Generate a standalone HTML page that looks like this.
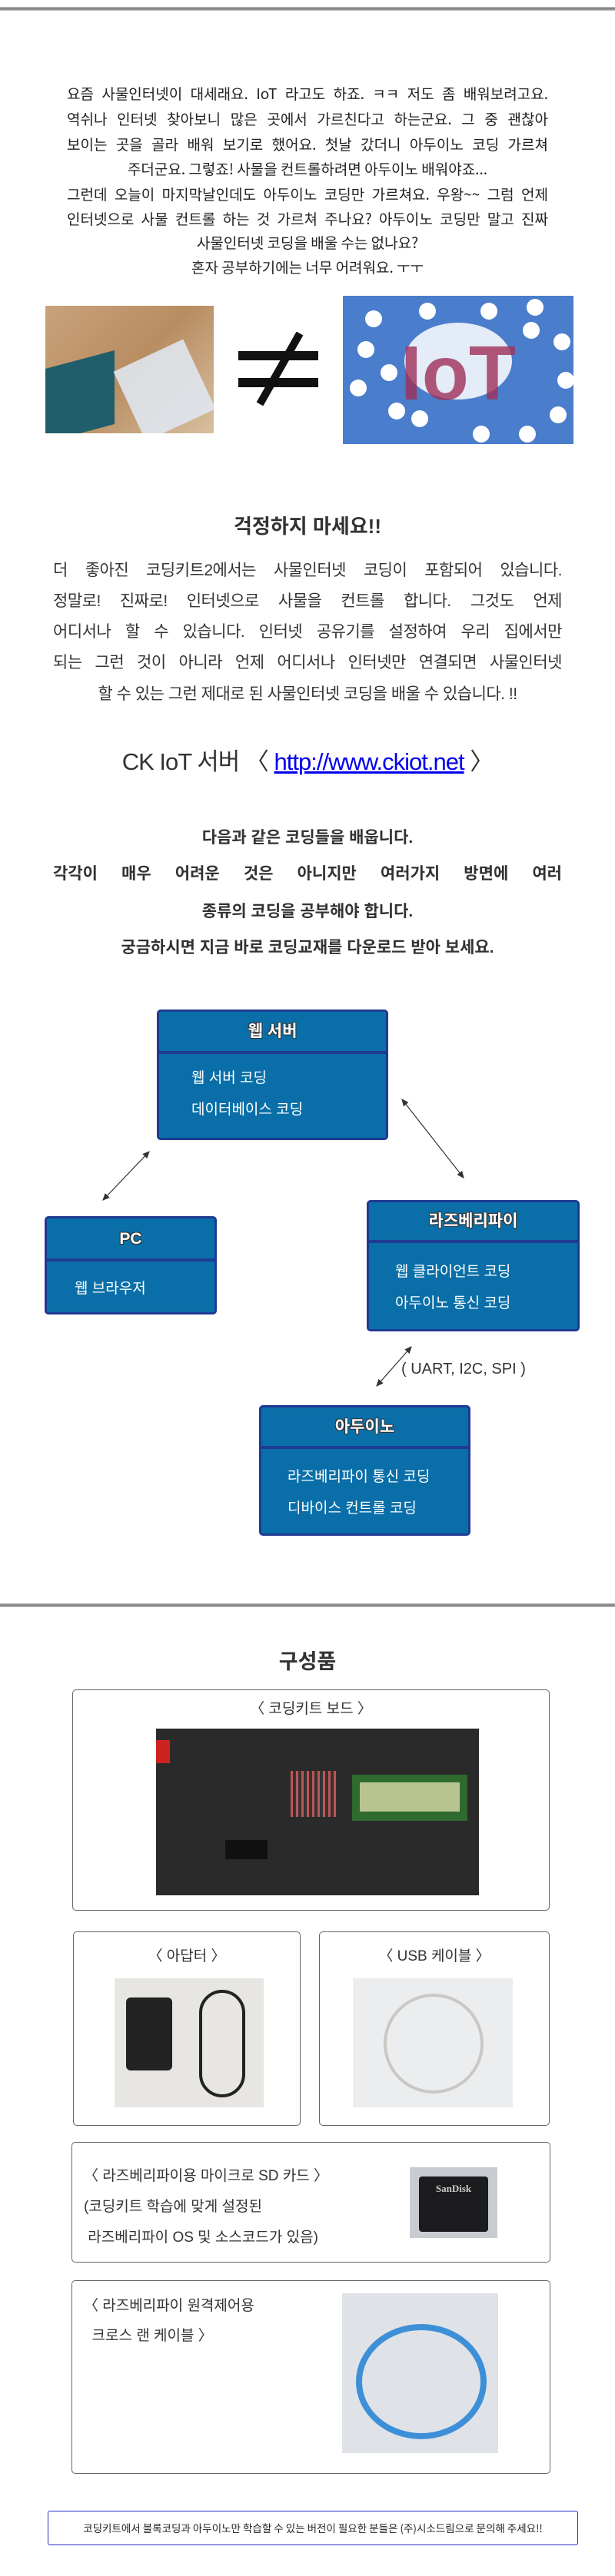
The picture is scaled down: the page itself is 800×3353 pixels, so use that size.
<!DOCTYPE html>
<html><head><meta charset="utf-8">
<style>
*{margin:0;padding:0;box-sizing:border-box}
body{width:800px;height:3353px;position:relative;background:#fff;font-family:"Liberation Sans","Noto Sans CJK KR",sans-serif;color:#333;overflow:hidden}
.a{position:absolute}
.bar{position:absolute;left:0;width:800px;height:5px;background:linear-gradient(#bbb,#777,#ccc)}
.hw{position:absolute;left:87px;width:626px;font-size:19px;height:32px;line-height:32px;color:#222;font-family:"WenQuanYi Zen Hei","Noto Sans CJK KR",sans-serif;white-space:nowrap}
.j{text-align:justify;text-align-last:justify}
.cc{text-align:center}
.c{text-align:center;left:0;width:800px}
.pl{position:absolute;left:69px;width:662px;font-size:21px;line-height:40px;height:40px;color:#333;white-space:nowrap;letter-spacing:-0.5px}
.bl{position:absolute;left:69px;width:662px;font-size:21px;font-weight:bold;line-height:48px;color:#333;white-space:nowrap}
.box{position:absolute;background:#0a6fa8;border:3px solid #1f3a93;border-radius:5px}
.box .hd{position:absolute;left:0;right:0;top:0;border-bottom:4px solid #1f3a93;text-align:center;color:#fff;font-weight:bold;font-size:21px;text-shadow:-1px -1px 0 #333,1px -1px 0 #333,-1px 1px 0 #333,1px 1px 0 #333}
.box .bd{position:absolute;color:#fff;font-size:19px;line-height:41px}
.pb{position:absolute;border:1.5px solid #666;border-radius:5px}
.t{position:absolute;font-size:19px;color:#333}
</style></head><body>
<div class="bar" style="top:9px"></div>
<div class="hw j" style="top:106px">요즘 사물인터넷이 대세래요. IoT 라고도 하죠. ㅋㅋ 저도 좀 배워보려고요.</div>
<div class="hw j" style="top:139px">역쉬나 인터넷 찾아보니 많은 곳에서 가르친다고 하는군요. 그 중 괜찮아</div>
<div class="hw j" style="top:172px">보이는 곳을 골라 배워 보기로 했어요. 첫날 갔더니 아두이노 코딩 가르쳐</div>
<div class="hw cc" style="top:204px">주더군요. 그렇죠! 사물을 컨트롤하려면 아두이노 배워야죠...</div>
<div class="hw j" style="top:237px">그런데 오늘이 마지막날인데도 아두이노 코딩만 가르쳐요. 우왕~~ 그럼 언제</div>
<div class="hw j" style="top:269px">인터넷으로 사물 컨트롤 하는 것 가르쳐 주나요? 아두이노 코딩만 말고 진짜</div>
<div class="hw cc" style="top:300px">사물인터넷 코딩을 배울 수는 없나요?</div>
<div class="hw cc" style="top:332px">혼자 공부하기에는 너무 어려워요. ㅜㅜ</div>

<div class="a" style="left:59px;top:398px;width:219px;height:166px;background:linear-gradient(135deg,#c9a27a,#b88d62 50%,#d8c0a0);overflow:hidden">
<div class="a" style="left:0;top:70px;width:90px;height:96px;background:#1f5e6a;transform:skewY(-15deg)"></div>
<div class="a" style="left:105px;top:60px;width:100px;height:100px;background:#dfe6ee;transform:rotate(-25deg);opacity:.9"></div>
</div>
<div class="a" style="left:308px;top:432px;width:108px;height:96px">
<svg width="108" height="96"><rect x="2" y="25" width="104" height="12" fill="#111"/><rect x="2" y="60" width="104" height="12" fill="#111"/><line x1="82" y1="2" x2="30" y2="94" stroke="#111" stroke-width="10"/></svg></div>
<div class="a" style="left:446px;top:385px;width:300px;height:193px;background:#4a7dcc">
<svg width="300" height="193"><g fill="#fff"><circle cx="40" cy="30" r="11"/><circle cx="110" cy="20" r="11"/><circle cx="190" cy="20" r="11"/><circle cx="250" cy="15" r="11"/><circle cx="30" cy="70" r="11"/><circle cx="60" cy="100" r="11"/><circle cx="20" cy="120" r="11"/><circle cx="70" cy="150" r="11"/><circle cx="100" cy="160" r="11"/><circle cx="180" cy="180" r="11"/><circle cx="240" cy="180" r="11"/><circle cx="280" cy="155" r="11"/><circle cx="285" cy="60" r="11"/><circle cx="290" cy="110" r="11"/><circle cx="245" cy="45" r="11"/><ellipse cx="150" cy="85" rx="70" ry="50" opacity=".85"/></g>
<text x="150" y="135" text-anchor="middle" font-size="100" font-weight="bold" fill="#a0305a" opacity=".8" font-family="Liberation Sans">IoT</text></svg></div>

<div class="a c" style="top:665px;font-size:26px;font-weight:bold;color:#333">걱정하지 마세요!!</div>
<div class="pl j" style="top:723px">더 좋아진 코딩키트2에서는 사물인터넷 코딩이 포함되어 있습니다.</div>
<div class="pl j" style="top:763px">정말로! 진짜로! 인터넷으로 사물을 컨트롤 합니다. 그것도 언제</div>
<div class="pl j" style="top:803px">어디서나 할 수 있습니다. 인터넷 공유기를 설정하여 우리 집에서만</div>
<div class="pl j" style="top:843px">되는 그런 것이 아니라 언제 어디서나 인터넷만 연결되면 사물인터넷</div>
<div class="pl cc" style="top:884px">할 수 있는 그런 제대로 된 사물인터넷 코딩을 배울 수 있습니다. !!</div>
<div class="a c" style="top:966px;font-size:31px;color:#333;letter-spacing:-1px">CK IoT 서버 〈 <span style="color:#0000ee;text-decoration:underline">http://www.ckiot.net</span> 〉</div>
<div class="bl cc" style="top:1067px">다음과 같은 코딩들을 배웁니다.</div>
<div class="bl j" style="top:1114px">각각이 매우 어려운 것은 아니지만 여러가지 방면에 여러</div>
<div class="bl cc" style="top:1163px">종류의 코딩을 공부해야 합니다.</div>
<div class="bl cc" style="top:1210px">궁금하시면 지금 바로 코딩교재를 다운로드 받아 보세요.</div>

<div class="box" style="left:204px;top:1314px;width:301px;height:170px"><div class="hd" style="height:55px;line-height:52px">웹 서버</div><div class="bd" style="left:42px;top:66px">웹 서버 코딩<br>데이터베이스 코딩</div></div>
<div class="box" style="left:58px;top:1583px;width:224px;height:128px"><div class="hd" style="height:56px;line-height:53px">PC</div><div class="bd" style="left:36px;top:71px">웹 브라우저</div></div>
<div class="box" style="left:477px;top:1562px;width:277px;height:171px"><div class="hd" style="height:53px;line-height:50px">라즈베리파이</div><div class="bd" style="left:34px;top:70px">웹 클라이언트 코딩<br>아두이노 통신 코딩</div></div>
<div class="box" style="left:337px;top:1829px;width:275px;height:170px"><div class="hd" style="height:54px;line-height:51px">아두이노</div><div class="bd" style="left:34px;top:70px">라즈베리파이 통신 코딩<br>디바이스 컨트롤 코딩</div></div>
<svg class="a" style="left:0;top:0" width="800" height="2100"><defs><marker id="m" markerWidth="8" markerHeight="8" refX="7" refY="4" orient="auto-start-reverse"><path d="M0,0.5 L8,4 L0,7.5z" fill="#333"/></marker></defs>
<g stroke="#333" stroke-width="1.2" marker-start="url(#m)" marker-end="url(#m)"><line x1="194" y1="1499" x2="134" y2="1562"/><line x1="523" y1="1431" x2="603" y2="1533"/><line x1="535" y1="1753" x2="490" y2="1804"/></g></svg>
<div class="a" style="left:522px;top:1771px;font-size:20px;color:#333">( UART, I2C, SPI )</div>

<div class="bar" style="top:2087px"></div>
<div class="a c" style="top:2141px;font-size:27px;font-weight:bold;color:#333">구성품</div>
<div class="pb" style="left:94px;top:2199px;width:621px;height:288px"></div>
<div class="t" style="left:94px;width:621px;text-align:center;top:2209px">〈 코딩키트 보드 〉</div>
<div class="a" style="left:203px;top:2250px;width:420px;height:217px;background:#2a2a2a">
<div class="a" style="left:175px;top:55px;width:60px;height:60px;background:repeating-linear-gradient(90deg,#b55 0 3px,#333 3px 7px)"></div>
<div class="a" style="left:255px;top:60px;width:150px;height:60px;background:#2f6a2f"><div class="a" style="left:10px;top:10px;width:130px;height:38px;background:#b8c490"></div></div>
<div class="a" style="left:90px;top:145px;width:55px;height:25px;background:#111"></div>
<div class="a" style="left:0;top:15px;width:18px;height:30px;background:#c22"></div></div>

<div class="pb" style="left:95px;top:2514px;width:296px;height:253px"></div>
<div class="t" style="left:95px;width:296px;text-align:center;top:2531px">〈 아답터 〉</div>
<div class="a" style="left:149px;top:2575px;width:194px;height:168px;background:#e8e6e2"><div class="a" style="left:15px;top:25px;width:60px;height:95px;background:#222;border-radius:6px"></div><div class="a" style="left:110px;top:15px;width:60px;height:140px;border:4px solid #222;border-radius:30px"></div></div>
<div class="pb" style="left:415px;top:2514px;width:300px;height:253px"></div>
<div class="t" style="left:415px;width:300px;text-align:center;top:2531px">〈 USB 케이블 〉</div>
<div class="a" style="left:459px;top:2575px;width:208px;height:168px;background:#ecedef"><div class="a" style="left:40px;top:20px;width:130px;height:130px;border:4px solid #c8c8c4;border-radius:50%"></div></div>

<div class="pb" style="left:93px;top:2788px;width:623px;height:157px"></div>
<div class="t" style="left:109px;top:2813px;line-height:40px;font-size:19px">〈 라즈베리파이용 마이크로 SD 카드 〉<br>(코딩키트 학습에 맞게 설정된<br>&nbsp;라즈베리파이 OS 및 소스코드가 있음)</div>
<div class="a" style="left:533px;top:2821px;width:114px;height:92px;background:#c8ccd0"><div class="a" style="left:12px;top:12px;width:90px;height:72px;background:#1c1c1e;border-radius:4px;color:#ccc;font-size:13px;font-weight:bold;text-align:center;padding-top:8px;font-family:'Liberation Serif',serif">SanDisk</div></div>

<div class="pb" style="left:93px;top:2968px;width:623px;height:252px"></div>
<div class="t" style="left:109px;top:2982px;line-height:39px;font-size:19px">〈 라즈베리파이 원격제어용<br>&nbsp;&nbsp;크로스 랜 케이블 〉</div>
<div class="a" style="left:445px;top:2985px;width:203px;height:208px;background:#dfe3e8"><div class="a" style="left:18px;top:40px;width:170px;height:150px;border:8px solid #3d8fd8;border-radius:50%"></div></div>

<div class="a" style="left:62px;top:3268px;width:690px;height:45px;border:1.5px solid #2a2acc;border-radius:3px;text-align:center;line-height:42px;font-size:13.5px;color:#222;font-family:'WenQuanYi Zen Hei','Noto Sans CJK KR',sans-serif">코딩키트에서 블록코딩과 아두이노만 학습할 수 있는 버전이 필요한 분들은 (주)시소드림으로 문의해 주세요!!</div>
</body></html>
